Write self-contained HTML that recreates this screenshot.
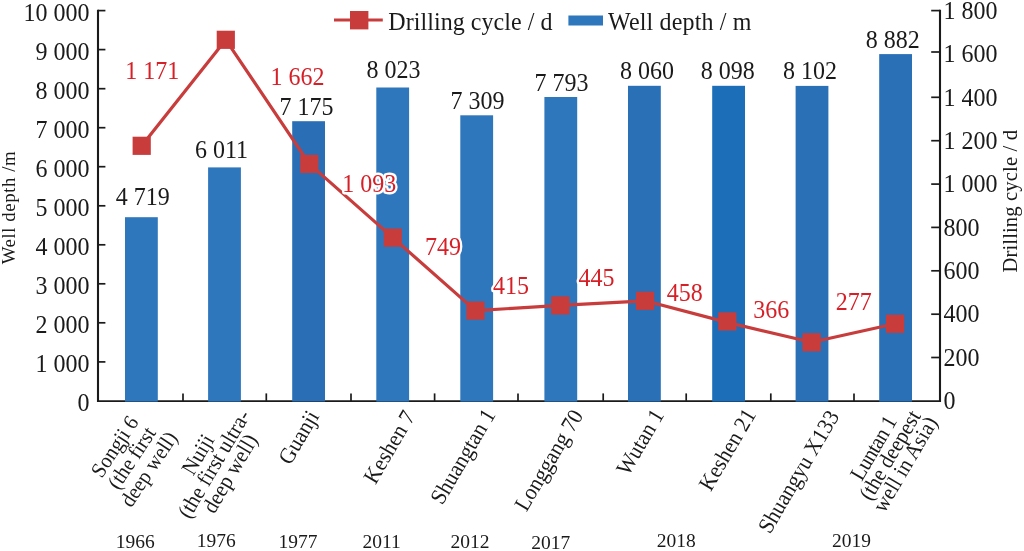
<!DOCTYPE html>
<html><head><meta charset="utf-8"><title>Chart</title>
<style>
html,body{margin:0;padding:0;background:#fff;}
body{width:1024px;height:551px;overflow:hidden;}
svg{display:block;will-change:transform;}
text{font-family:"Liberation Serif",serif;}
</style></head><body>
<svg width="1024" height="551" viewBox="0 0 1024 551">
<rect width="1024" height="551" fill="#ffffff"/>
<g stroke="#1a1a1a" stroke-width="1.7" fill="none">
<path d="M98.0 9.7 V401.9 M940.0 9.7 V401.9" stroke-width="2.1"/>
<path d="M97.0 401.09999999999997 H941.0" stroke-width="1.7"/>
<path d="M98.0 361.9 h7.4"/>
<path d="M98.0 322.8 h7.4"/>
<path d="M98.0 283.8 h7.4"/>
<path d="M98.0 244.8 h7.4"/>
<path d="M98.0 205.8 h7.4"/>
<path d="M98.0 166.7 h7.4"/>
<path d="M98.0 127.7 h7.4"/>
<path d="M98.0 88.7 h7.4"/>
<path d="M98.0 49.6 h7.4"/>
<path d="M98.0 10.6 h7.4"/>
<path d="M940.0 357.5 h-8.8"/>
<path d="M940.0 314.2 h-8.8"/>
<path d="M940.0 270.8 h-8.8"/>
<path d="M940.0 227.4 h-8.8"/>
<path d="M940.0 184.1 h-8.8"/>
<path d="M940.0 140.7 h-8.8"/>
<path d="M940.0 97.3 h-8.8"/>
<path d="M940.0 52.0 h-8.8"/>
<path d="M940.0 10.6 h-8.8"/>
<path d="M183.0 400.9 v-7.5"/>
<path d="M266.3 400.9 v-7.5"/>
<path d="M351.0 400.9 v-7.5"/>
<path d="M434.6 400.9 v-7.5"/>
<path d="M518.0 400.9 v-7.5"/>
<path d="M603.2 400.9 v-7.5"/>
<path d="M686.2 400.9 v-7.5"/>
<path d="M770.8 400.9 v-7.5"/>
<path d="M854.0 400.9 v-7.5"/>
</g>
<rect x="125.0" y="217.2" width="32.8" height="184.4" fill="#2e77bd"/>
<rect x="208.1" y="167.4" width="32.8" height="234.2" fill="#2e77bd"/>
<rect x="292.2" y="121.2" width="32.8" height="280.3" fill="#2a6fb6"/>
<rect x="376.3" y="87.5" width="32.8" height="314.1" fill="#2e77bd"/>
<rect x="460.3" y="115.3" width="32.8" height="286.3" fill="#2e77bd"/>
<rect x="544.4" y="97.0" width="32.8" height="304.6" fill="#2e77bd"/>
<rect x="628.0" y="85.8" width="32.8" height="315.8" fill="#2a70b7"/>
<rect x="712.2" y="85.8" width="32.8" height="315.8" fill="#1c6eb8"/>
<rect x="795.6" y="85.9" width="32.8" height="315.7" fill="#2a70b7"/>
<rect x="879.2" y="54.1" width="32.8" height="347.5" fill="#2a70b7"/>
<g fill="#1a1a1a">
<text transform="translate(89.40,410.90) scale(1,1.06)" font-size="24" text-anchor="end">0</text>
<text transform="translate(89.40,371.87) scale(1,1.06)" font-size="24" text-anchor="end">1 000</text>
<text transform="translate(89.40,332.84) scale(1,1.06)" font-size="24" text-anchor="end">2 000</text>
<text transform="translate(89.40,293.81) scale(1,1.06)" font-size="24" text-anchor="end">3 000</text>
<text transform="translate(89.40,254.78) scale(1,1.06)" font-size="24" text-anchor="end">4 000</text>
<text transform="translate(89.40,215.75) scale(1,1.06)" font-size="24" text-anchor="end">5 000</text>
<text transform="translate(89.40,176.72) scale(1,1.06)" font-size="24" text-anchor="end">6 000</text>
<text transform="translate(89.40,137.69) scale(1,1.06)" font-size="24" text-anchor="end">7 000</text>
<text transform="translate(89.40,98.66) scale(1,1.06)" font-size="24" text-anchor="end">8 000</text>
<text transform="translate(89.40,59.63) scale(1,1.06)" font-size="24" text-anchor="end">9 000</text>
<text transform="translate(89.40,20.60) scale(1,1.06)" font-size="24" text-anchor="end">10 000</text>
<text transform="translate(943.60,409.10) scale(1,1.06)" font-size="24">0</text>
<text transform="translate(943.60,365.73) scale(1,1.06)" font-size="24">200</text>
<text transform="translate(943.60,322.37) scale(1,1.06)" font-size="24">400</text>
<text transform="translate(943.60,279.00) scale(1,1.06)" font-size="24">600</text>
<text transform="translate(943.60,235.63) scale(1,1.06)" font-size="24">800</text>
<text transform="translate(943.60,192.27) scale(1,1.06)" font-size="24">1 000</text>
<text transform="translate(943.60,148.90) scale(1,1.06)" font-size="24">1 200</text>
<text transform="translate(943.60,105.53) scale(1,1.06)" font-size="24">1 400</text>
<text transform="translate(943.60,62.17) scale(1,1.06)" font-size="24">1 600</text>
<text transform="translate(943.60,18.80) scale(1,1.06)" font-size="24">1 800</text>
<text transform="translate(115.80,205.30) scale(1,1.06)" font-size="24">4 719</text>
<text transform="translate(195.00,158.10) scale(1,1.06)" font-size="24">6 011</text>
<text transform="translate(279.45,114.50) scale(1,1.06)" font-size="24">7 175</text>
<text transform="translate(366.43,78.20) scale(1,1.06)" font-size="24">8 023</text>
<text transform="translate(450.43,109.00) scale(1,1.06)" font-size="24">7 309</text>
<text transform="translate(534.40,91.05) scale(1,1.06)" font-size="24">7 793</text>
<text transform="translate(620.10,78.90) scale(1,1.06)" font-size="24">8 060</text>
<text transform="translate(700.83,78.90) scale(1,1.06)" font-size="24">8 098</text>
<text transform="translate(783.02,79.20) scale(1,1.06)" font-size="24">8 102</text>
<text transform="translate(865.78,48.30) scale(1,1.06)" font-size="24">8 882</text>
</g>
<polyline points="141.7,145.8 225.8,39.8 309.3,163.9 392.8,237.6 475.5,310.6 560.3,305.4 645.1,300.8 727.3,322.4 811.6,342.3 895.1,323.8" fill="none" stroke="#c83c3c" stroke-width="3.2" stroke-linejoin="round"/>
<rect x="132.6" y="136.7" width="18.2" height="18.2" fill="#c83c3c"/>
<rect x="216.7" y="30.7" width="18.2" height="18.2" fill="#c83c3c"/>
<rect x="300.2" y="154.8" width="18.2" height="18.2" fill="#c83c3c"/>
<rect x="383.7" y="228.5" width="18.2" height="18.2" fill="#c83c3c"/>
<rect x="466.4" y="301.5" width="18.2" height="18.2" fill="#c83c3c"/>
<rect x="551.2" y="296.3" width="18.2" height="18.2" fill="#c83c3c"/>
<rect x="636.0" y="291.7" width="18.2" height="18.2" fill="#c83c3c"/>
<rect x="718.2" y="312.3" width="18.2" height="18.2" fill="#c83c3c"/>
<rect x="802.5" y="333.2" width="18.2" height="18.2" fill="#c83c3c"/>
<rect x="886.0" y="314.7" width="18.2" height="18.2" fill="#c83c3c"/>
<g fill="#d61f26" stroke="#ffffff" stroke-width="4.6" stroke-linejoin="round" paint-order="stroke">
<text transform="translate(125.25,79.20) scale(1,1.06)" font-size="24">1 171</text>
<text transform="translate(270.58,85.40) scale(1,1.06)" font-size="24">1 662</text>
<text transform="translate(342.30,192.40) scale(1,1.06)" font-size="24">1 093</text>
<text transform="translate(424.98,254.60) scale(1,1.06)" font-size="24">749</text>
<text transform="translate(493.02,293.70) scale(1,1.06)" font-size="24">415</text>
<text transform="translate(578.50,285.60) scale(1,1.06)" font-size="24">445</text>
<text transform="translate(666.70,300.70) scale(1,1.06)" font-size="24">458</text>
<text transform="translate(753.17,317.60) scale(1,1.06)" font-size="24">366</text>
<text transform="translate(835.70,310.40) scale(1,1.06)" font-size="24">277</text>
</g>
<path d="M334 20 H382.8" stroke="#c83c3c" stroke-width="3"/>
<rect x="350" y="11" width="18.4" height="18.4" fill="#c83c3c"/>
<g fill="#1a1a1a">
<text transform="translate(388.30,30.00) scale(1,1.06)" font-size="24" textLength="164.3" lengthAdjust="spacing">Drilling cycle / d</text>
<rect x="568.4" y="15.5" width="34.6" height="10" fill="#2e77bd"/>
<text transform="translate(608.00,30.00) scale(1,1.06)" font-size="24" textLength="143.5" lengthAdjust="spacing">Well depth / m</text>
<text transform="translate(15.3,264.3) rotate(-90) scale(1,1.02)" font-size="18.8" textLength="113" lengthAdjust="spacing">Well depth /m</text>
<text transform="translate(1017.0,272.6) rotate(-90)" font-size="20.7" textLength="142.6" lengthAdjust="spacing">Drilling cycle / d</text>
<g transform="translate(137.60,461.77) rotate(-56.5) scale(1,1.06)" font-size="20.3" text-anchor="middle">
<text x="0" y="-19.30">Songji 6</text>
<text x="0" y="0.00">(the first</text>
<text x="0" y="19.30">deep well)</text>
</g>
<g transform="translate(220.18,467.62) rotate(-59.5) scale(1,1.06)" font-size="20.8" text-anchor="middle">
<text x="0" y="-17.60">Nuiji</text>
<text x="0" y="0.00">(the first ultra-</text>
<text x="0" y="17.60">deep well)</text>
</g>
<g transform="translate(305.02,441.15) rotate(-59.5) scale(1,1.06)" font-size="21.3" text-anchor="middle">
<text x="0" y="0.00">Guanji</text>
</g>
<g transform="translate(395.73,450.80) rotate(-59.5) scale(1,1.06)" font-size="21.3" text-anchor="middle">
<text x="0" y="0.00">Keshen 7</text>
</g>
<g transform="translate(469.23,460.25) rotate(-59.5) scale(1,1.06)" font-size="21.3" text-anchor="middle">
<text x="0" y="0.00">Shuangtan 1</text>
</g>
<g transform="translate(555.17,463.92) rotate(-59.5) scale(1,1.06)" font-size="21.3" text-anchor="middle">
<text x="0" y="0.00">Longgang 70</text>
</g>
<g transform="translate(646.50,445.85) rotate(-59.5) scale(1,1.06)" font-size="21.3" text-anchor="middle">
<text x="0" y="0.00">Wutan 1</text>
</g>
<g transform="translate(733.70,453.35) rotate(-59.5) scale(1,1.06)" font-size="21.3" text-anchor="middle">
<text x="0" y="0.00">Keshen 21</text>
</g>
<g transform="translate(804.90,475.48) rotate(-59.5) scale(1,1.06)" font-size="21.3" text-anchor="middle">
<text x="0" y="0.00">Shuangyu X133</text>
</g>
<g transform="translate(896.05,458.82) rotate(-59.5) scale(1,1.06)" font-size="20.8" text-anchor="middle">
<text x="-2" y="-16.80" textLength="70.5" lengthAdjust="spacing">Luntan 1</text>
<text x="0" y="0.00">(the deepest</text>
<text x="0" y="16.80">well in Asia)</text>
</g>
<text transform="translate(115.65,547.80) scale(1,1.02)" font-size="19.5">1966</text>
<text transform="translate(196.77,547.40) scale(1,1.02)" font-size="19.5">1976</text>
<text transform="translate(278.57,547.80) scale(1,1.02)" font-size="19.5">1977</text>
<text transform="translate(362.50,547.80) scale(1,1.02)" font-size="19.5">2011</text>
<text transform="translate(450.52,548.30) scale(1,1.02)" font-size="19.5">2012</text>
<text transform="translate(531.17,549.10) scale(1,1.02)" font-size="19.5">2017</text>
<text transform="translate(656.75,547.40) scale(1,1.02)" font-size="19.5">2018</text>
<text transform="translate(832.05,547.00) scale(1,1.02)" font-size="19.5">2019</text>
</g>
</svg></body></html>
